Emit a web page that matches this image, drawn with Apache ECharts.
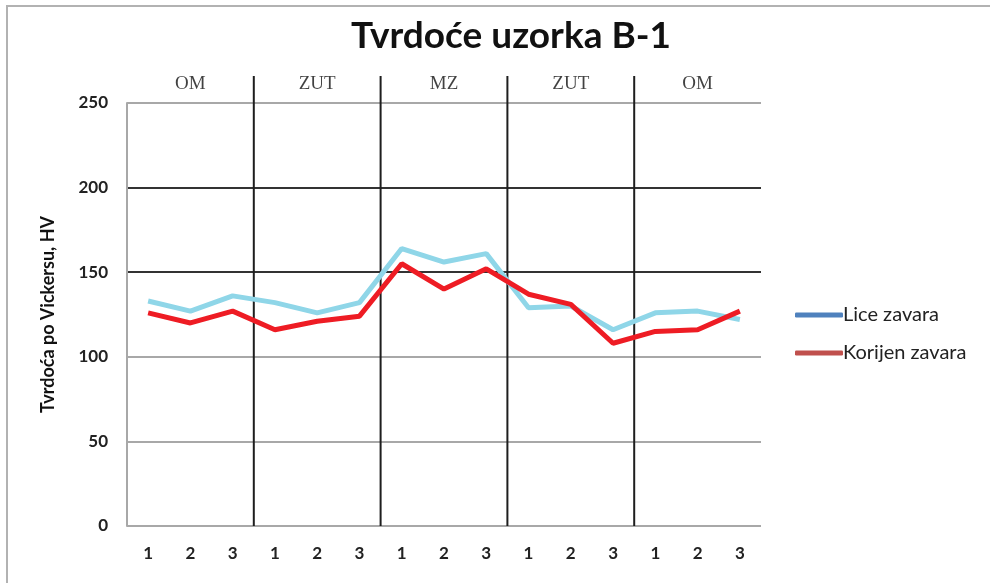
<!DOCTYPE html>
<html>
<head>
<meta charset="utf-8">
<script src="https://cdn.jsdelivr.net/npm/echarts@6/dist/echarts.min.js"></script>
<style>
  html, body { margin: 0; padding: 0; background: #fff; }
  #chart { width: 990px; height: 583px; }
</style>
</head>
<body>
<div id="chart"></div>
<script>
// Measurement positions within each zone (1-2-3 across five zones)
const positions = ['1','2','3','1','2','3','1','2','3','1','2','3','1','2','3'];
// Zone names across the weld: base metal, HAZ, weld metal, HAZ, base metal
const zones = ['OM', 'ZUT', 'MZ', 'ZUT', 'OM'];
// Hardness, HV
const liceZavara    = [133, 127, 136, 132, 126, 132, 164, 156, 161, 129, 130, 116, 126, 127, 122];
const korijenZavara = [126, 120, 127, 116, 121, 124, 155, 140, 152, 137, 131, 108, 115, 116, 127];
const yTicks = [0, 50, 100, 150, 200, 250];

const chart = echarts.init(document.getElementById('chart'));

const perZone = 3;
const boundaries = [];
for (let i = 1; i < zones.length; i++) boundaries.push(i * perZone);

// Black dividers between zones, running up past the plot top
const dividerSeries = boundaries.map(b => ({
  type: 'line',
  xAxisIndex: 1,
  data: [[b, 0], [b, 266]],
  symbol: 'none',
  clip: false,
  silent: true,
  lineStyle: { color: '#1e1e1e', width: 2 },
  z: 3
}));

// Zone names centred above each group of three points
const zoneLabels = {
  type: 'scatter',
  xAxisIndex: 1,
  data: zones.map((z, i) => [i * perZone + perZone / 2, 261, z]),
  symbolSize: 0,
  clip: false,
  silent: true,
  label: {
    show: true,
    position: 'inside',
    formatter: p => p.value[2],
    fontFamily: 'Liberation Serif',
    fontSize: 19,
    color: '#111'
  }
};

chart.setOption({
  animation: false,
  title: {
    text: 'Tvrdoće uzorka B-1',
    left: 506,
    textAlign: 'center',
    top: 13,
    textStyle: { fontFamily: 'Lato', fontWeight: 'bold', fontSize: 37, color: '#111' }
  },
  graphic: [{
    type: 'rect',
    shape: { x: 7, y: 6, width: 1100, height: 700 },
    style: { fill: 'none', stroke: '#b2b2b2', lineWidth: 2 },
    silent: true
  }],
  legend: {
    orient: 'vertical',
    left: 790,
    top: 300,
    itemGap: 18,
    itemWidth: 48,
    itemHeight: 5,
    icon: 'roundRect',
    textStyle: { fontFamily: 'Lato', fontSize: 20, color: '#222', padding: [0, 0, 0, -5] },
    data: [
      { name: 'Lice zavara', itemStyle: { color: '#4f81bd' } },
      { name: 'Korijen zavara', itemStyle: { color: '#c0504d' } }
    ]
  },
  grid: { left: 127, right: 229, top: 103, bottom: 57 },
  xAxis: [{
    type: 'category',
    data: positions,
    boundaryGap: true,
    axisLine: { show: false },
    axisTick: { show: false },
    axisLabel: { fontFamily: 'Lato', fontWeight: 'bold', fontSize: 17, color: '#222', margin: 19 },
    splitLine: { show: false }
  }, {
    type: 'value',
    min: 0,
    max: positions.length,
    show: false
  }],
  yAxis: {
    type: 'value',
    min: 0,
    max: 250,
    interval: 50,
    name: 'Tvrdoća po Vickersu, HV',
    nameLocation: 'middle',
    nameGap: 70,
    nameTextStyle: { fontFamily: 'Lato', fontWeight: 'bold', fontSize: 18, color: '#111' },
    axisLine: { show: true, lineStyle: { color: '#a8a8a8', width: 2 } },
    axisTick: { show: false },
    axisLabel: {
      fontFamily: 'Lato', fontWeight: 'bold', fontSize: 17, color: '#222', margin: 19,
      formatter: v => yTicks.includes(v) ? String(v) : ''
    },
    splitLine: {
      lineStyle: { color: ['#a8a8a8', '#a8a8a8', '#a8a8a8', '#333', '#333', '#a8a8a8'], width: 2 }
    }
  },
  series: [
    {
      name: 'Lice zavara',
      type: 'line',
      data: liceZavara,
      symbol: 'none',
      lineStyle: { color: '#8fd6e8', width: 5 },
      itemStyle: { color: '#8fd6e8' },
      z: 4
    },
    {
      name: 'Korijen zavara',
      type: 'line',
      data: korijenZavara,
      symbol: 'none',
      lineStyle: { color: '#ee1c24', width: 5 },
      itemStyle: { color: '#ee1c24' },
      z: 5
    },
    ...dividerSeries,
    zoneLabels
  ]
});
</script>
</body>
</html>
